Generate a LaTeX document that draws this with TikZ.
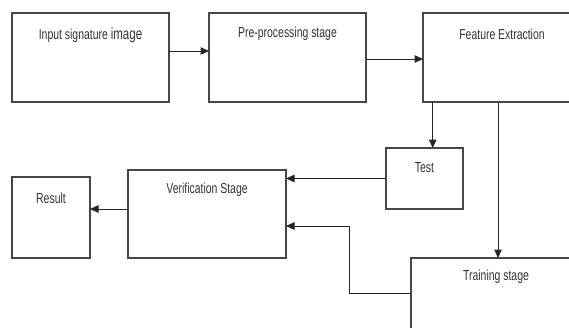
\documentclass[tikz,border=0pt]{standalone}
\usepackage{fontspec}
\setmainfont[FakeStretch=0.72]{Liberation Sans}
\usetikzlibrary{arrows.meta}
\begin{document}
\begin{tikzpicture}[x=1pt,y=-1pt,
  box/.style={draw=black!72, line width=1.1pt, rectangle, inner sep=0pt, outer sep=0pt, anchor=north west},
  conn/.style={line width=1pt, draw=black!85, -{Triangle[length=8.5pt,width=7.5pt]}},
  lbl/.style={font=\fontsize{14.5}{16}\selectfont, text=black!80, inner sep=0pt}]
\useasboundingbox (0,0) rectangle (569,327);
\clip (0,0) rectangle (569,327);

\node[box, minimum width=157pt, minimum height=89pt,
  label={[lbl, anchor=center, yshift=-22pt]north:Input signature {\fontsize{16}{16}\selectfont image}}] (inp) at (12,13) {};
\node[box, minimum width=157pt, minimum height=89pt,
  label={[lbl, anchor=center, yshift=-21pt]north:Pre-processing stage}] (pre) at (209,13) {};
\node[box, minimum width=158pt, minimum height=89pt,
  label={[lbl, anchor=center, yshift=-21pt]north:Feature Extraction}] (fe) at (423,13) {};
\node[box, minimum width=77pt, minimum height=61pt,
  label={[lbl, anchor=center, yshift=-20pt]north:Test}] (test) at (386,148) {};
\node[box, minimum width=158pt, minimum height=88pt,
  label={[lbl, anchor=center, yshift=-20pt]north:Verification Stage}] (ver) at (128,170) {};
\node[box, minimum width=78pt, minimum height=81pt,
  label={[lbl, anchor=center, yshift=-21pt]north:Result}] (res) at (12,177) {};
\node[box, minimum width=170pt, minimum height=88pt,
  label={[lbl, anchor=center, yshift=-19pt]north:Training stage}] (tr) at (411,258) {};

\draw[conn] ([yshift=6.5pt]inp.east) -- ([yshift=6.5pt]pre.west);
\draw[conn] ([yshift=-1.5pt]pre.east) -- ([yshift=-1.5pt]fe.west);
\draw[conn] ([xshift=9.7pt]fe.south west) -- ([xshift=9.7pt]fe.south west |- test.north);
\draw[conn] ([xshift=75pt]fe.south west) -- ([xshift=75pt]fe.south west |- tr.north);
\draw[conn] (test.west) -- (test.west -| ver.east);
\draw[conn] ([yshift=-35pt]tr.north west) -- ++(-62,0) |- ([yshift=-56pt]ver.north east);
\draw[conn] ([yshift=-39pt]ver.north west) -- ([yshift=-39pt]ver.north west -| res.east);
\end{tikzpicture}
\end{document}
